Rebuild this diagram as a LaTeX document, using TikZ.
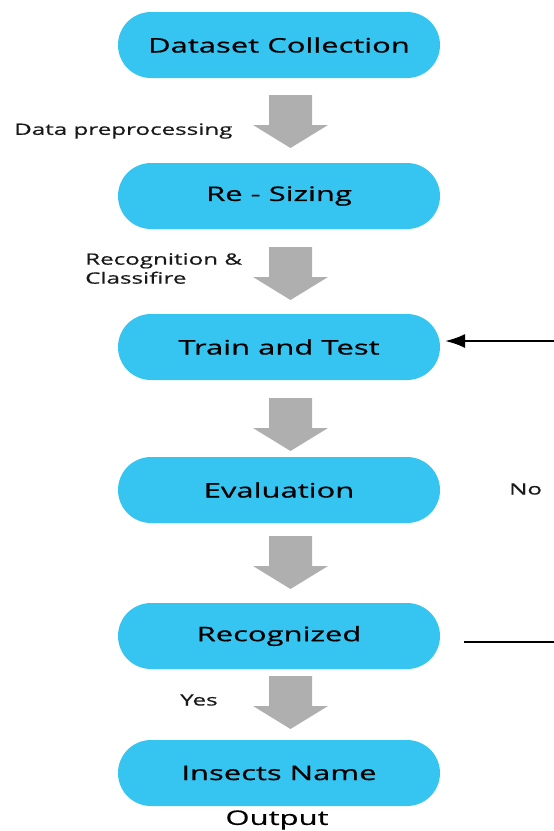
\documentclass[tikz,border=0pt]{standalone}
\usepackage{fontspec}
\setmainfont{Open Sans}[FakeStretch=1.55, FakeBold=0.6]
\usetikzlibrary{arrows.meta}
\definecolor{boxblue}{HTML}{36C4F1}
\definecolor{arrgray}{HTML}{AEAFAE}
\begin{document}
\begin{tikzpicture}[x=1pt,y=-1pt,
  stage/.style={fill=boxblue, draw=none, rounded corners=33pt, minimum width=322pt, minimum height=66pt, inner sep=0pt, font=\fontsize{20}{24}\selectfont, text=black},
  lbl/.style={font=\fontsize{15.6}{19}\selectfont, text=black!90, inner sep=0pt},
  fat/.pic={\fill[arrgray] (-21.5,0) -- (21.5,0) -- (21.5,30) -- (37.5,30) -- (0,53) -- (-37.5,30) -- (-21.5,30) -- cycle;},
  link/.style={line width=2.4pt, black}
]
\useasboundingbox (0,0) rectangle (554,831);
\node[stage] (dc) at (279,45) {Dataset Collection};
\node[stage] (rs) at (279,196) {Re - Sizing};
\node[stage] (tt) at (279,347) {Train and Test};
\node[stage] (ev) at (279,490) {Evaluation};
\node[stage] (rc) at (279,636) {Recognized};
\node[stage] (in) at (279,773) {Insects Name};

\pic at (290.5,95) {fat};
\pic at (290.5,247) {fat};
\pic at (290.5,398) {fat};
\pic at (290.5,536) {fat};
\pic at (290.5,676) {fat};

\node[lbl, anchor=west] (dp) at (14,131) {Data preprocessing};
\node[lbl, anchor=north west, align=left] (rcl) at (85,253) {Recognition \&\\Classifire};
\node[lbl, anchor=west] (no) at (509,489) {No};
\node[lbl, anchor=west] (yes) at (180,700) {Yes};
\node[font=\fontsize{20}{24}\selectfont, text=black, inner sep=0pt] (out) at (277,820) {Output};

\coordinate (fb1) at (554,341);
\coordinate (fb1e) at (445,341);
\coordinate (fb2) at (554,642);
\coordinate (fb2s) at (464,642);
\draw[link, -{Latex[length=20pt,width=14pt]}] (fb1) -- (fb1e);
\draw[link] (fb2s) -- (fb2);
\end{tikzpicture}
\end{document}
